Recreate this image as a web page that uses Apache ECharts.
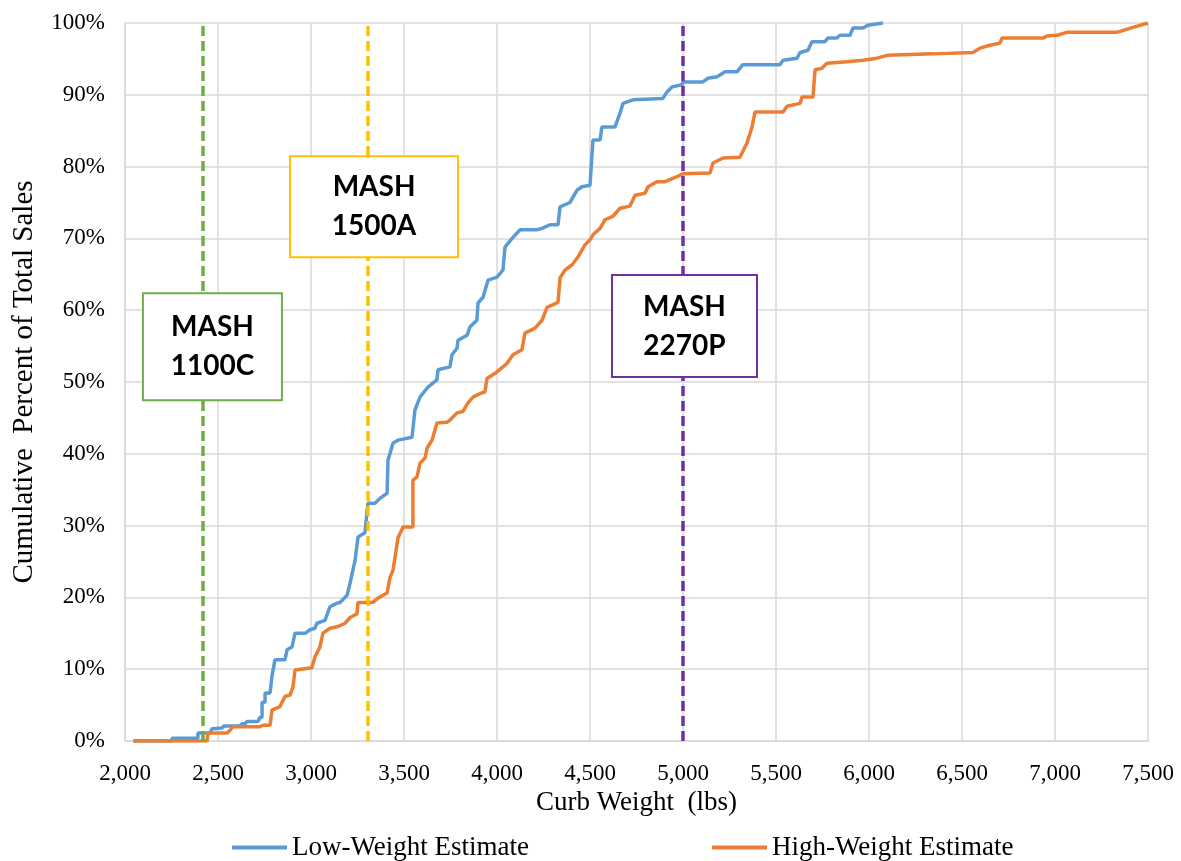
<!DOCTYPE html>
<html>
<head>
<meta charset="utf-8">
<script src="https://cdn.jsdelivr.net/npm/echarts@6/dist/echarts.min.js"></script>
<style>
  html, body { margin: 0; padding: 0; background: #fff; }
  #chart { width: 1181px; height: 861px; }
</style>
</head>
<body>
<div id="chart"></div>
<script>
// Low-weight estimate: curb weight (lbs) and cumulative percent of sales
var lowLbs = [2048, 2253, 2253, 2392, 2392, 2457, 2468, 2521, 2532, 2618, 2629, 2645, 2656, 2715, 2726, 2737, 2737, 2753, 2753, 2780,
  2790, 2806, 2860, 2871, 2898, 2914, 2968, 2995, 3021, 3032, 3075, 3102, 3140, 3156, 3194, 3210, 3237, 3253, 3290, 3306,
  3344, 3371, 3409, 3414, 3441, 3468, 3543, 3559, 3586, 3629, 3677, 3683, 3747, 3758, 3785, 3790, 3839, 3855, 3892, 3898,
  3925, 3952, 4000, 4032, 4043, 4081, 4124, 4215, 4242, 4285, 4328, 4339, 4392, 4430, 4457, 4500, 4516, 4554, 4564, 4634,
  4661, 4677, 4731, 4892, 4914, 4941, 4995, 5000, 5107, 5134, 5183, 5226, 5290, 5322, 5521, 5538, 5613, 5629, 5672, 5693,
  5763, 5779, 5828, 5844, 5898, 5914, 5968, 5994, 6075];
var lowPct = [0, 0, 0.4, 0.4, 1.1, 1.1, 1.7, 1.8, 2.1, 2.1, 2.4, 2.4, 2.7, 2.7, 3.3, 3.3, 5.4, 5.4, 6.7, 6.7,
  9, 11.3, 11.3, 12.7, 13.1, 15, 15, 15.5, 15.7, 16.4, 16.8, 18.7, 19.2, 19.3, 20.3, 22, 25.2, 28.4, 29, 33.1,
  33.1, 33.8, 34.5, 39.1, 41.5, 41.9, 42.3, 46.1, 47.9, 49.3, 50.3, 51.7, 52.1, 53.8, 54.7, 55.8, 56.5, 57.7, 58.6, 61,
  61.8, 64.2, 64.6, 65.6, 68.8, 70, 71.2, 71.2, 71.4, 71.9, 71.9, 74.4, 75, 76.7, 77.2, 77.4, 83.7, 83.7, 85.5, 85.5,
  87.4, 88.8, 89.3, 89.5, 90.4, 91.1, 91.4, 91.8, 91.8, 92.3, 92.5, 93.2, 93.2, 94.2, 94.2, 94.8, 95.1, 95.9, 96.2, 97.4,
  97.4, 97.9, 97.9, 98.3, 98.3, 99.3, 99.3, 99.7, 100];

// High-weight estimate
var highLbs = [2043, 2441, 2446, 2548, 2565, 2581, 2726, 2742, 2780, 2790, 2833, 2860, 2887, 2903, 2914, 3005, 3021, 3048, 3064, 3102,
  3140, 3183, 3210, 3247, 3253, 3333, 3360, 3409, 3425, 3441, 3468, 3495, 3548, 3548, 3570, 3586, 3613, 3624, 3651, 3677,
  3731, 3747, 3785, 3817, 3844, 3871, 3919, 3935, 3946, 4000, 4054, 4086, 4134, 4150, 4204, 4242, 4269, 4328, 4339, 4366,
  4403, 4435, 4473, 4500, 4516, 4554, 4581, 4624, 4661, 4715, 4742, 4796, 4812, 4860, 4903, 4968, 5000, 5145, 5161, 5215,
  5306, 5344, 5371, 5387, 5538, 5559, 5629, 5640, 5699, 5710, 5747, 5774, 5882, 5968, 6043, 6097, 6344, 6559, 6597, 6650,
  6704, 6715, 6935, 6957, 7011, 7064, 7333, 7419, 7500];
var highPct = [0, 0, 1.1, 1.1, 1.5, 2, 2, 2.2, 2.2, 4.3, 4.8, 6.2, 6.4, 7.5, 9.9, 10.2, 11.7, 13.1, 15, 15.7,
  15.9, 16.4, 17.2, 17.7, 19.3, 19.3, 19.9, 20.6, 22.8, 23.8, 28.3, 29.8, 29.8, 36.3, 36.8, 38.7, 39.4, 40.8, 41.9, 44.3,
  44.4, 44.7, 45.7, 45.9, 47.1, 47.9, 48.5, 48.6, 50.5, 51.4, 52.6, 53.8, 54.5, 56.8, 57.5, 58.6, 60.4, 61.1, 64.5, 65.6,
  66.3, 67.4, 69.1, 69.8, 70.5, 71.4, 72.6, 73.1, 74.2, 74.5, 76, 76.3, 77.2, 77.9, 77.9, 78.6, 79, 79.1, 80.5, 81.2,
  81.3, 83.3, 85.5, 87.6, 87.6, 88.4, 88.8, 89.7, 89.7, 93.5, 93.7, 94.4, 94.6, 94.8, 95.1, 95.5, 95.7, 95.9, 96.5, 96.9,
  97.2, 97.9, 97.9, 98.2, 98.3, 98.7, 98.7, 99.4, 100];

// MASH test vehicle weights (lbs)
var mashLbs = [2420, 3307, 5000];
var mashLabels = ['MASH\n1100C', 'MASH\n1500A', 'MASH\n2270P'];
var mashColors = ['#70AD47', '#FFC000', '#7030A0'];

// label box placement (data coords of box centre) and box size in px
var boxCenters = [[2470, 54.9], [3339, 74.4], [5008, 57.8]];
var boxSizes = [[139, 107], [168, 101], [145, 102]];

function zip(xs, ys) {
  return xs.map(function (x, i) { return [x, ys[i]]; });
}

var serif = '"Liberation Serif", "Times New Roman", serif';
var gridColor = '#D9D9D9';

var chart = echarts.init(document.getElementById('chart'));

chart.setOption({
  animation: false,
  backgroundColor: '#fff',
  textStyle: { fontFamily: serif, color: '#000' },
  grid: { left: 125, right: 33, top: 23, bottom: 120, outerBoundsMode: 'none' },
  legend: {
    data: ['Low-Weight Estimate', 'High-Weight Estimate'],
    left: 227,
    top: 829,
    icon: 'rect',
    itemWidth: 55,
    itemHeight: 4,
    itemGap: 183,
    textStyle: { fontFamily: serif, fontSize: 27, color: '#000' }
  },
  xAxis: {
    type: 'value',
    min: 2000,
    max: 7500,
    interval: 500,
    name: 'Curb Weight  (lbs)',
    nameLocation: 'middle',
    nameGap: 48,
    nameTextStyle: { fontFamily: serif, fontSize: 27, color: '#000' },
    axisLine: { show: true, lineStyle: { color: gridColor, width: 1.5 } },
    axisTick: { show: false },
    axisLabel: {
      fontFamily: serif, fontSize: 23, color: '#000', margin: 21,
      formatter: function (v) { return String(v).replace(/\B(?=(\d{3})+(?!\d))/g, ','); }
    },
    splitLine: { show: true, lineStyle: { color: gridColor, width: 1.5 } }
  },
  yAxis: {
    type: 'value',
    min: 0,
    max: 100,
    interval: 10,
    name: 'Cumulative  Percent of Total Sales',
    nameLocation: 'middle',
    nameGap: 86,
    nameTextStyle: { fontFamily: serif, fontSize: 29, color: '#000' },
    axisLine: { show: true, lineStyle: { color: gridColor, width: 1.5 } },
    axisTick: { show: false },
    axisLabel: { fontFamily: serif, fontSize: 23, color: '#000', margin: 20, formatter: '{value}%' },
    splitLine: { show: true, lineStyle: { color: gridColor, width: 1.5 } }
  },
  series: [
    {
      name: 'Low-Weight Estimate',
      type: 'line',
      data: zip(lowLbs, lowPct),
      symbol: 'none',
      color: '#5B9BD5',
      lineStyle: { width: 3.5, color: '#5B9BD5' },
      z: 2
    },
    {
      name: 'High-Weight Estimate',
      type: 'line',
      data: zip(highLbs, highPct),
      symbol: 'none',
      color: '#ED7D31',
      lineStyle: { width: 3.5, color: '#ED7D31' },
      z: 3
    },
    {
      name: 'MASH',
      type: 'line',
      data: [],
      z: 5,
      markLine: {
        silent: true,
        symbol: 'none',
        label: { show: false },
        data: mashLbs.map(function (v, i) {
          return { xAxis: v, lineStyle: { color: mashColors[i], type: [10, 5], width: 3.5 } };
        })
      }
    }
  ]
});

// boxes with the MASH labels
var graphics = [];
boxCenters.forEach(function (c, i) {
  var p = chart.convertToPixel({ gridIndex: 0 }, c);
  var w = boxSizes[i][0], h = boxSizes[i][1];
  graphics.push({
    type: 'rect',
    shape: { x: p[0] - w / 2, y: p[1] - h / 2, width: w, height: h },
    style: { fill: '#fff', stroke: mashColors[i], lineWidth: 2 },
    z: 100
  });
  graphics.push({
    type: 'text',
    x: p[0],
    y: p[1],
    style: {
      text: mashLabels[i],
      font: 'bold 28px Lato, "Open Sans", sans-serif',
      fill: '#000',
      align: 'center',
      verticalAlign: 'middle',
      lineHeight: 39
    },
    z: 101
  });
});
chart.setOption({ graphic: graphics });
</script>
</body>
</html>
